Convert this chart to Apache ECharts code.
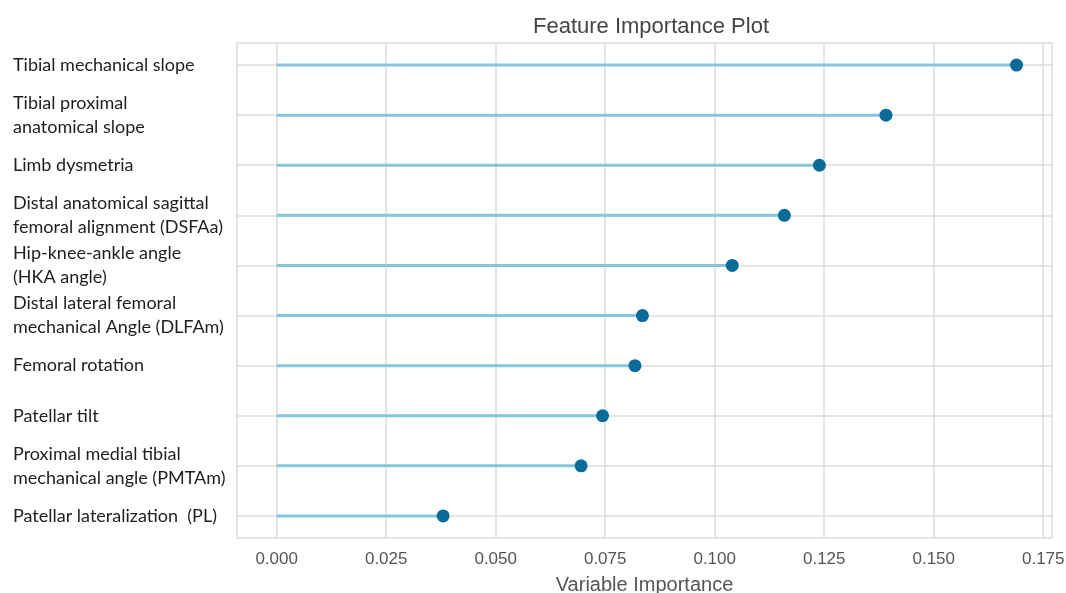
<!DOCTYPE html>
<html>
<head>
<meta charset="utf-8">
<script src="https://cdn.jsdelivr.net/npm/echarts@6/dist/echarts.min.js"></script>
<style>html,body{margin:0;padding:0;background:#fff}#c{width:1066px;height:593px}</style>
</head>
<body>
<div id="c"></div>
<script>
const categories = [
  'Tibial mechanical slope',
  'Tibial proximal\nanatomical slope',
  'Limb dysmetria',
  'Distal anatomical sagittal\nfemoral alignment (DSFAa)',
  'Hip-knee-ankle angle\n(HKA angle)',
  'Distal lateral femoral\nmechanical Angle (DLFAm)',
  'Femoral rotation',
  'Patellar tilt',
  'Proximal medial tibial\nmechanical angle (PMTAm)',
  'Patellar lateralization  (PL)'
];
const importance = [0.1689, 0.1391, 0.1239, 0.1159, 0.1040, 0.0835, 0.0818, 0.0744, 0.0695, 0.0380];
const xTicks = [0, 0.025, 0.05, 0.075, 0.1, 0.125, 0.15, 0.175];
const rowIdx = categories.map((_, i) => i);

const points = importance.map((v, i) => [v, i]);
const gridColor = '#dcdcdc';

const chart = echarts.init(document.getElementById('c'));
chart.setOption({
  animation: false,
  backgroundColor: '#fff',
  title: {
    text: 'Feature Importance Plot',
    left: 646, top: 11, textAlign: 'center',
    textStyle: {fontFamily: 'Liberation Sans', fontSize: 22, fontWeight: 'normal', color: '#444'}
  },
  grid: {left: 237, right: 14, top: 43, bottom: 55, show: true, borderColor: gridColor, borderWidth: 1.5,
    backgroundColor: 'transparent', containLabel: false, outerBoundsMode: 'none'},
  xAxis: {
    type: 'value', min: -0.00906, max: 0.177,
    axisLine: {show: false},
    axisTick: {show: false, customValues: xTicks},
    splitLine: {show: true, lineStyle: {color: gridColor, width: 1.5}},
    axisLabel: {customValues: xTicks, formatter: v => v.toFixed(3), fontFamily: 'Liberation Sans', fontSize: 17, color: '#555', margin: 13},
    name: 'Variable Importance', nameLocation: 'middle', nameGap: 37,
    nameTextStyle: {fontFamily: 'Liberation Sans', fontSize: 20, color: '#555'}
  },
  yAxis: {
    type: 'value', inverse: true, min: -0.44, max: 9.44,
    axisLine: {show: false},
    axisTick: {show: false, customValues: rowIdx},
    splitLine: {show: true, lineStyle: {color: gridColor, width: 1.5}},
    axisLabel: {customValues: rowIdx, formatter: v => categories[v], align: 'left', margin: 224,
      fontFamily: 'Lato', fontSize: 18, lineHeight: 24, color: '#1e1e1e'}
  },
  series: [
    {
      type: 'custom', z: 2, data: points,
      renderItem: function (params, api) {
        const v = api.value(0), i = api.value(1);
        const p0 = api.coord([0, i]), p1 = api.coord([v, i]);
        return {type: 'line', shape: {x1: p0[0], y1: p0[1], x2: p1[0], y2: p1[1]}, style: {stroke: '#85c6de', lineWidth: 3}};
      }
    },
    {
      type: 'scatter', z: 3, data: points, symbolSize: 13,
      itemStyle: {color: '#0b6b98', opacity: 1}
    }
  ]
});
</script>
</body>
</html>
